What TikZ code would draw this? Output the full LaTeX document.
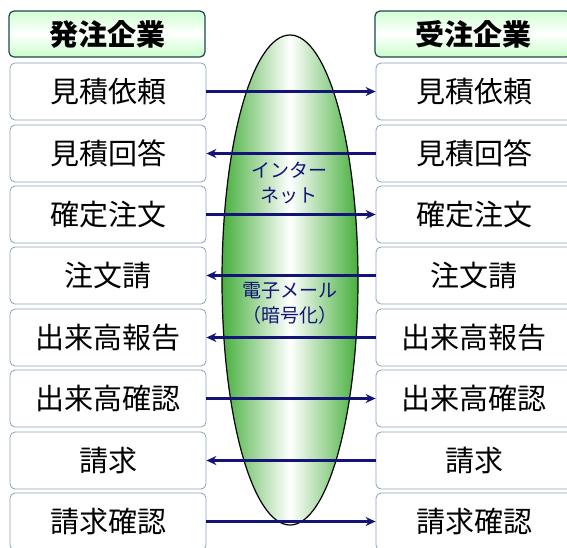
\documentclass[tikz,border=0pt]{standalone}
\usepackage{fontspec}
\setmainfont{Noto Sans CJK JP}
\usetikzlibrary{arrows.meta}
\definecolor{navy}{RGB}{20,20,120}
\definecolor{boxline}{RGB}{140,160,185}
\definecolor{hdrline}{RGB}{30,70,80}
\definecolor{egreen}{RGB}{70,175,60}
\tikzset{
  cell/.style={draw=boxline, line width=0.8pt, rounded corners=5pt, fill=white,
    minimum width=196pt, minimum height=57pt, inner sep=0pt,
    font=\fontsize{29}{31}\selectfont},
  hdr/.style={draw=hdrline, line width=1.2pt, rounded corners=5pt,
    top color=green!18, bottom color=green!22, middle color=white,
    minimum width=196pt, minimum height=46pt, inner sep=0pt,
    font=\bfseries\fontsize{29}{31}\selectfont},
  flow/.style={draw=navy, line width=2.6pt, -{Stealth[length=10pt,width=9pt]}},
  netlbl/.style={text=navy, font=\fontsize{19}{25}\selectfont, align=center, inner sep=0pt}
}
\begin{document}
\begin{tikzpicture}[x=1pt,y=-1pt]
\useasboundingbox (0,0) rectangle (567,547);
\clip (0,0) rectangle (567,547);
% ellipse
\draw[line width=1.2pt, left color=egreen, right color=egreen, middle color=white, shading angle=90]
  (290,280) ellipse [x radius=68, y radius=245];
\node[hdr] (hL) at (107,34) {発注企業};
\node[hdr] (hR) at (473,34) {受注企業};
\foreach \i/\t/\y in {1/見積依頼/91.5,2/見積回答/153.5,3/確定注文/214.5,4/注文請/275.5,
  5/出来高報告/337.5,6/出来高確認/398.5,7/請求/460.5,8/請求確認/521.5}{
  \node[cell] (L\i) at (108,\y) {\t};
  \node[cell] (R\i) at (474,\y) {\t};
}
\draw[flow] (L1) -- (R1);
\draw[flow] (R2) -- (L2);
\draw[flow] (L3) -- (R3);
\draw[flow] (R4) -- (L4);
\draw[flow] (R5) -- (L5);
\draw[flow] (L6) -- (R6);
\draw[flow] (R7) -- (L7);
\draw[flow] (L8) -- (R8);
\node[netlbl] (net) at (289,183) {インター\\ネット};
\node[netlbl] (mail) at (290,303) {電子メール\\（暗号化）};
\end{tikzpicture}
\end{document}
